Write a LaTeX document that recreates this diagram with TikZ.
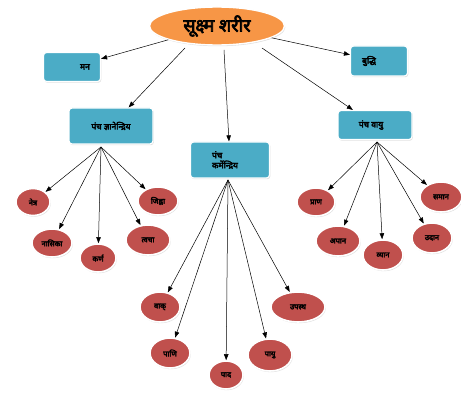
\documentclass[tikz,border=0pt]{standalone}
\usepackage{fontspec}
\newfontfamily\devfont[Script=Devanagari,FakeBold=4]{Noto Sans}
\usetikzlibrary{shapes.geometric,shadows,arrows.meta}
\definecolor{topor}{HTML}{F79646}
\definecolor{boxbl}{HTML}{4BACC6}
\definecolor{ovred}{HTML}{C0504D}
\begin{document}
\begin{tikzpicture}[x=1pt,y=-1pt,
  topell/.style={ellipse,fill=topor,draw=white,line width=1.4pt,minimum width=135pt,minimum height=38pt,inner sep=0pt,
    drop shadow={shadow xshift=0.8pt,shadow yshift=-1.2pt,fill=gray!55},font=\devfont\fontsize{18}{19}\selectfont},
  bluebox/.style={rectangle,rounded corners=3pt,fill=boxbl,draw=white,line width=1.2pt,inner sep=0pt,
    drop shadow={shadow xshift=0.8pt,shadow yshift=-1.2pt,fill=gray!50},font=\devfont\fontsize{8.5}{10}\selectfont},
  redov/.style={ellipse,fill=ovred,draw=white,line width=1.6pt,inner sep=0pt,
    drop shadow={shadow xshift=0.8pt,shadow yshift=-1.2pt,fill=gray!50},font=\devfont\fontsize{7.5}{8}\selectfont},
  arr/.style={-{Triangle[length=6pt,width=4.5pt]},line width=0.5pt,black}]
\useasboundingbox (0,0) rectangle (461,393);
\node[topell] (top) at (217,26) {सूक्ष्म शरीर};
\node[bluebox,minimum width=57pt,minimum height=29pt] (man) at (72,67) {\hspace*{26pt}मन};
\node[bluebox,minimum width=57pt,minimum height=30pt] (bud) at (379,61) {बुद्धि\hspace*{20pt}};
\node[bluebox,minimum width=84pt,minimum height=36pt] (gyan) at (111,126) {पंच ज्ञानेन्द्रिय};
\node[bluebox,minimum width=79pt,minimum height=36pt,align=left] (karm) at (230,160) {पंच\\कर्मेन्द्रिय\hspace*{10pt}};
\node[bluebox,minimum width=74pt,minimum height=29pt] (vayu) at (375,125) {पंच वायु\hspace*{8pt}};
% sense organs
\node[redov,minimum width=34pt,minimum height=27pt] (g1) at (33,202) {नेत्र};
\node[redov,minimum width=40pt,minimum height=28pt] (g2) at (52,243) {नासिका};
\node[redov,minimum width=36pt,minimum height=28pt] (g3) at (98,258) {कर्ण};
\node[redov,minimum width=44pt,minimum height=30pt] (g4) at (148,240) {त्वचा};
\node[redov,minimum width=40pt,minimum height=28pt] (g5) at (158,201) {जिह्वा};
% organs of action
\node[redov,minimum width=40pt,minimum height=30pt] (k1) at (160,307) {वाक्};
\node[redov,minimum width=40pt,minimum height=30pt] (k2) at (170,353) {पाणि};
\node[redov,minimum width=34pt,minimum height=28pt] (k3) at (226,375) {पाद};
\node[redov,minimum width=44pt,minimum height=32pt] (k4) at (270,355) {पायु};
\node[redov,minimum width=54pt,minimum height=30pt] (k5) at (298,307) {उपस्थ};
% vital airs
\node[redov,minimum width=38pt,minimum height=28pt] (v1) at (316,202) {प्राण};
\node[redov,minimum width=44pt,minimum height=30pt] (v2) at (338,241) {अपान};
\node[redov,minimum width=40pt,minimum height=30pt] (v3) at (383,255) {व्यान};
\node[redov,minimum width=40pt,minimum height=30pt] (v4) at (432,238) {उदान};
\node[redov,minimum width=42pt,minimum height=30pt] (v5) at (441,197) {समान};
% connectors
\coordinate (tg) at (185,48);
\coordinate (tk) at (224,50);
\coordinate (tv) at (262,48);
\coordinate (gb) at (101,147);
\coordinate (kb) at (228,180);
\coordinate (vb) at (377,142);
\draw[arr] (top) -- (man);
\draw[arr] (top) -- (bud);
\draw[arr] (tg) -- (gyan);
\draw[arr] (tk) -- (karm);
\draw[arr] (tv) -- (vayu);
\foreach \n in {g1,g2,g3,g4,g5} \draw[arr] (gb) -- (\n);
\foreach \n in {k1,k2,k3,k4,k5} \draw[arr] (kb) -- (\n);
\foreach \n in {v1,v2,v3,v4,v5} \draw[arr] (vb) -- (\n);
\end{tikzpicture}
\end{document}
